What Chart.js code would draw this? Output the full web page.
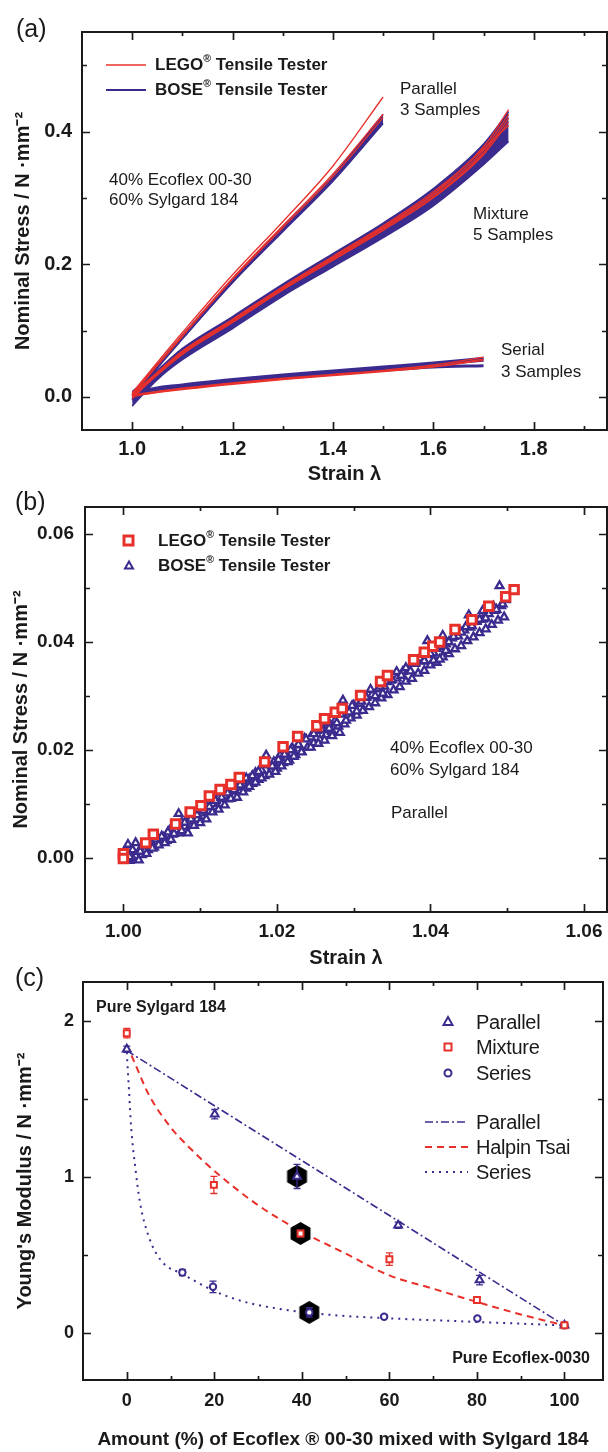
<!DOCTYPE html>
<html>
<head>
<meta charset="utf-8">
<script src="https://cdn.jsdelivr.net/npm/chart.js@4.4.1/dist/chart.umd.min.js"></script>
<style>
  body { margin: 0; background: #fff; }
  #page { position: relative; width: 608px; height: 1452px; overflow: hidden;
          font-family: "Liberation Sans", Arial, Helvetica, sans-serif; color: #1a1a1a; }
  #page canvas { position: absolute; left: 0; }
  .t { position: absolute; white-space: nowrap; }
  .b { font-weight: bold; }
  .t sup { font-size: 62%; line-height: 0; position: relative; top: -0.15em; }
  .leg { position: absolute; }
</style>
</head>
<body>
<div id="page">
  <canvas id="chartA" width="608" height="495" style="top:0px"></canvas>
  <canvas id="chartB" width="608" height="495" style="top:480px"></canvas>
  <canvas id="chartC" width="608" height="497" style="top:955px"></canvas>

  <!-- panel (a) -->
  <div class="t" style="left:16px; top:13px; font-size:25px; line-height:30px;">(a)</div>
  <svg class="leg" style="left:106px; top:62px" width="40" height="6"><line x1="0" y1="3" x2="40" y2="3" stroke="#e8302a" stroke-width="1.6"/></svg>
  <svg class="leg" style="left:106px; top:87px" width="40" height="6"><line x1="0" y1="3" x2="40" y2="3" stroke="#3b2b8e" stroke-width="2.2"/></svg>
  <div class="t b" style="left:155px; top:55px; font-size:17px; line-height:20px;">LEGO<sup>®</sup> Tensile Tester</div>
  <div class="t b" style="left:155px; top:80px; font-size:17px; line-height:20px;">BOSE<sup>®</sup> Tensile Tester</div>
  <div class="t" style="left:109px; top:170px; font-size:17px; line-height:20px;">40% Ecoflex 00-30<br>60% Sylgard 184</div>
  <div class="t" style="left:400px; top:78px; font-size:17px; line-height:21px;">Parallel<br>3 Samples</div>
  <div class="t" style="left:473px; top:203px; font-size:17px; line-height:21px;">Mixture<br>5 Samples</div>
  <div class="t" style="left:501px; top:339px; font-size:17px; line-height:22px;">Serial<br>3 Samples</div>

  <!-- panel (b) -->
  <div class="t" style="left:15px; top:486px; font-size:25px; line-height:30px;">(b)</div>
  <svg class="leg" style="left:121px; top:533px" width="16" height="16"><rect x="3" y="3" width="9" height="9" fill="#fff" stroke="#e8302a" stroke-width="3"/></svg>
  <svg class="leg" style="left:121px; top:558px" width="16" height="16"><polygon points="8,3.5 12,10.5 4,10.5" fill="#fff" stroke="#3b2b8e" stroke-width="2"/></svg>
  <div class="t b" style="left:158px; top:531px; font-size:17px; line-height:20px;">LEGO<sup>®</sup> Tensile Tester</div>
  <div class="t b" style="left:158px; top:556px; font-size:17px; line-height:20px;">BOSE<sup>®</sup> Tensile Tester</div>
  <div class="t" style="left:390px; top:737px; font-size:17px; line-height:22px;">40% Ecoflex 00-30<br>60% Sylgard 184</div>
  <div class="t" style="left:391px; top:802px; font-size:17px; line-height:22px;">Parallel</div>

  <!-- panel (c) -->
  <div class="t" style="left:15px; top:962px; font-size:25px; line-height:30px;">(c)</div>
  <div class="t b" style="left:96px; top:997px; font-size:16px; line-height:20px;">Pure Sylgard 184</div>
  <div class="t b" style="right:18px; top:1348px; font-size:16px; line-height:20px;">Pure Ecoflex-0030</div>
  <svg class="leg" style="left:440px; top:1014px" width="16" height="16"><polygon points="8,3 12.5,11 3.5,11" fill="#fff" stroke="#3b2b8e" stroke-width="2"/></svg>
  <svg class="leg" style="left:440px; top:1039px" width="16" height="16"><rect x="4.5" y="4.5" width="7" height="7" fill="#fff" stroke="#e8302a" stroke-width="2"/></svg>
  <svg class="leg" style="left:440px; top:1065px" width="16" height="16"><circle cx="8" cy="8" r="3.5" fill="#fff" stroke="#3b2b8e" stroke-width="2"/></svg>
  <svg class="leg" style="left:425px; top:1119px" width="43" height="6"><line x1="0" y1="3" x2="43" y2="3" stroke="#3b2b8e" stroke-width="1.6" stroke-dasharray="8 3 2 3"/></svg>
  <svg class="leg" style="left:425px; top:1144px" width="43" height="6"><line x1="0" y1="3" x2="43" y2="3" stroke="#e8302a" stroke-width="2" stroke-dasharray="7 5"/></svg>
  <svg class="leg" style="left:425px; top:1169px" width="43" height="6"><line x1="0" y1="3" x2="43" y2="3" stroke="#3b2b8e" stroke-width="2" stroke-dasharray="2 5"/></svg>
  <div class="t" style="left:476px; top:1011px; font-size:20px; line-height:22px; letter-spacing:-0.3px;">Parallel</div>
  <div class="t" style="left:476px; top:1036px; font-size:20px; line-height:22px; letter-spacing:-0.3px;">Mixture</div>
  <div class="t" style="left:476px; top:1062px; font-size:20px; line-height:22px; letter-spacing:-0.3px;">Series</div>
  <div class="t" style="left:476px; top:1111px; font-size:20px; line-height:22px; letter-spacing:-0.3px;">Parallel</div>
  <div class="t" style="left:476px; top:1136px; font-size:20px; line-height:22px; letter-spacing:-0.3px;">Halpin Tsai</div>
  <div class="t" style="left:476px; top:1161px; font-size:20px; line-height:22px; letter-spacing:-0.3px;">Series</div>
</div>

<script>
const FONT = '"Liberation Sans", Arial, Helvetica, sans-serif';
const INK = '#1a1a1a';
const RED = '#e8302a';
const PURPLE = '#3b2b8e';

// ---- panel (a): stress-strain curves ----
const strainPar = [1.0, 1.05, 1.1, 1.2, 1.3, 1.4, 1.5];
const legoPar1 = [0.006, 0.052, 0.097, 0.184, 0.264, 0.348, 0.452];
const legoPar2 = [0.004, 0.049, 0.093, 0.179, 0.258, 0.336, 0.426];
const legoPar3 = [0.002, 0.047, 0.091, 0.177, 0.255, 0.332, 0.421];
const boseParHi = [0.003, 0.049, 0.093, 0.178, 0.256, 0.333, 0.426];
const boseParLo = [-0.005, 0.043, 0.087, 0.172, 0.249, 0.325, 0.412];

const strainMix = [1.0, 1.05, 1.1, 1.2, 1.3, 1.4, 1.5, 1.6, 1.7, 1.75];
const boseMixHi = [0.008, 0.040, 0.073, 0.121, 0.170, 0.216, 0.262, 0.314, 0.381, 0.430];
const boseMixLo = [-0.014, 0.026, 0.056, 0.103, 0.152, 0.196, 0.240, 0.288, 0.350, 0.385];
const legoMix1 = [0.004, 0.037, 0.069, 0.117, 0.166, 0.212, 0.258, 0.309, 0.377, 0.433];
const legoMix2 = [0.002, 0.035, 0.067, 0.115, 0.164, 0.209, 0.255, 0.305, 0.372, 0.426];
const legoMix3 = [0.0, 0.033, 0.064, 0.112, 0.161, 0.206, 0.251, 0.300, 0.365, 0.414];
const legoMix4 = [-0.003, 0.034, 0.065, 0.113, 0.162, 0.207, 0.253, 0.302, 0.368, 0.420];
const legoMix5 = [0.001, 0.036, 0.068, 0.116, 0.165, 0.210, 0.256, 0.306, 0.374, 0.409];

const strainSer = [1.0, 1.02, 1.1, 1.2, 1.3, 1.4, 1.5, 1.6, 1.7];
const boseSer1 = [0.0, 0.008, 0.018, 0.026, 0.033, 0.039, 0.045, 0.051, 0.058];
const boseSer2 = [-0.004, 0.006, 0.016, 0.024, 0.031, 0.037, 0.043, 0.049, 0.055];
const boseSer3 = [0.002, 0.007, 0.015, 0.023, 0.030, 0.035, 0.040, 0.045, 0.047];
const legoSer1 = [0.003, 0.005, 0.013, 0.021, 0.028, 0.034, 0.040, 0.048, 0.060];
const legoSer2 = [0.002, 0.004, 0.012, 0.020, 0.027, 0.033, 0.039, 0.046, 0.057];
const legoSer3 = [0.0, 0.003, 0.011, 0.019, 0.026, 0.032, 0.038, 0.045, 0.055];

const ticksAx = [1.0, 1.1, 1.2, 1.3, 1.4, 1.5, 1.6, 1.7, 1.8, 1.9];
const labelsAx = [1.0, 1.2, 1.4, 1.6, 1.8];
const ticksAy = [0.0, 0.1, 0.2, 0.3, 0.4, 0.5];
const labelsAy = [0.0, 0.2, 0.4];

// ---- panel (b): parallel, small strain ----
const legoStrainB = [1.0, 1.0, 1.0029, 1.0039, 1.0068, 1.0087, 1.0101, 1.0112, 1.0126, 1.0140, 1.0151,
  1.0184, 1.0208, 1.0227, 1.0252, 1.0262, 1.0276, 1.0285, 1.0309, 1.0335, 1.0344, 1.0378, 1.0392,
  1.0403, 1.0412, 1.0432, 1.0454, 1.0476, 1.0498, 1.0509];
const legoStressB = [0.0008, -0.0001, 0.0028, 0.0044, 0.0063, 0.0085, 0.0097, 0.0115, 0.0127, 0.0136, 0.0149,
  0.0178, 0.0206, 0.0225, 0.0245, 0.0258, 0.0270, 0.0277, 0.0301, 0.0327, 0.0338, 0.0367, 0.0381,
  0.0392, 0.0400, 0.0423, 0.0441, 0.0466, 0.0484, 0.0497];

// BOSE sample 1
const boseStrainB1 = [1.0002, 1.0006, 1.0008, 1.0012, 1.0016, 1.0020, 1.0022, 1.0026, 1.0030, 1.0034,
  1.0038, 1.0042, 1.0046, 1.0050, 1.0054, 1.0058, 1.0062, 1.0066, 1.0070, 1.0072, 1.0076, 1.0080,
  1.0084, 1.0088, 1.0092, 1.0096, 1.0100, 1.0104, 1.0108, 1.0112, 1.0116, 1.0120, 1.0124, 1.0128,
  1.0132, 1.0136, 1.0140, 1.0144, 1.0148, 1.0152, 1.0156, 1.0160, 1.0164, 1.0168, 1.0172, 1.0176,
  1.0180, 1.0186, 1.0190, 1.0194, 1.0198, 1.0202, 1.0206, 1.0210, 1.0214, 1.0218, 1.0222, 1.0228,
  1.0232, 1.0238, 1.0244, 1.0248, 1.0254, 1.0258, 1.0262, 1.0268, 1.0272, 1.0278, 1.0282, 1.0286,
  1.0290, 1.0294, 1.0298, 1.0304, 1.0310, 1.0316, 1.0322, 1.0328, 1.0334, 1.0338, 1.0344, 1.0350,
  1.0356, 1.0362, 1.0368, 1.0374, 1.0380, 1.0386, 1.0392, 1.0396, 1.0400, 1.0404, 1.0408, 1.0412,
  1.0416, 1.0420, 1.0424, 1.0430, 1.0436, 1.0440, 1.0446, 1.0450, 1.0454, 1.0460, 1.0464, 1.0468,
  1.0472, 1.0478, 1.0482, 1.0486, 1.0490, 1.0494, 1.0498];
const boseStressB1 = [0.0010, 0.0025, 0.0002, 0.0015, 0.0028, -0.0004, 0.0012, 0.0022, 0.0008, 0.0030,
  0.0018, 0.0035, 0.0024, 0.0040, 0.0028, 0.0048, 0.0034, 0.0045, 0.0060, 0.0082, 0.0050, 0.0066,
  0.0046, 0.0072, 0.0060, 0.0080, 0.0065, 0.0088, 0.0072, 0.0095, 0.0085, 0.0106, 0.0090, 0.0112,
  0.0098, 0.0120, 0.0110, 0.0126, 0.0112, 0.0135, 0.0122, 0.0148, 0.0132, 0.0152, 0.0140, 0.0160,
  0.0148, 0.0190, 0.0155, 0.0170, 0.0160, 0.0182, 0.0170, 0.0192, 0.0178, 0.0200, 0.0188, 0.0210,
  0.0196, 0.0220, 0.0205, 0.0230, 0.0212, 0.0238, 0.0218, 0.0240, 0.0226, 0.0250, 0.0232, 0.0292,
  0.0255, 0.0270, 0.0282, 0.0272, 0.0290, 0.0298, 0.0312, 0.0300, 0.0318, 0.0305, 0.0326, 0.0330,
  0.0345, 0.0338, 0.0352, 0.0346, 0.0362, 0.0370, 0.0365, 0.0402, 0.0378, 0.0366, 0.0388, 0.0368,
  0.0412, 0.0384, 0.0400, 0.0410, 0.0420, 0.0418, 0.0428, 0.0450, 0.0430, 0.0440, 0.0442, 0.0458,
  0.0444, 0.0462, 0.0466, 0.0460, 0.0504, 0.0470, 0.0478];

// BOSE sample 2
const boseStrainB2 = [1.0004, 1.0012, 1.0020, 1.0028, 1.0036, 1.0044, 1.0052, 1.0060, 1.0068, 1.0076,
  1.0084, 1.0092, 1.0100, 1.0108, 1.0116, 1.0124, 1.0132, 1.0140, 1.0148, 1.0156, 1.0164, 1.0172,
  1.0180, 1.0188, 1.0196, 1.0204, 1.0212, 1.0220, 1.0228, 1.0236, 1.0244, 1.0252, 1.0260, 1.0268,
  1.0276, 1.0284, 1.0292, 1.0300, 1.0308, 1.0316, 1.0324, 1.0332, 1.0340, 1.0348, 1.0356, 1.0364,
  1.0372, 1.0380, 1.0388, 1.0396, 1.0404, 1.0412, 1.0420, 1.0428, 1.0436, 1.0444, 1.0452, 1.0460,
  1.0468, 1.0476, 1.0484, 1.0492];
const boseStressB2 = [-0.0002, 0.0000, 0.0012, 0.0014, 0.0020, 0.0035, 0.0038, 0.0051, 0.0052, 0.0066,
  0.0068, 0.0082, 0.0083, 0.0097, 0.0100, 0.0112, 0.0115, 0.0128, 0.0131, 0.0142, 0.0146, 0.0158,
  0.0162, 0.0172, 0.0178, 0.0190, 0.0193, 0.0204, 0.0209, 0.0221, 0.0224, 0.0236, 0.0240, 0.0250,
  0.0255, 0.0266, 0.0270, 0.0283, 0.0286, 0.0297, 0.0302, 0.0313, 0.0318, 0.0329, 0.0333, 0.0345,
  0.0349, 0.0360, 0.0364, 0.0376, 0.0380, 0.0391, 0.0396, 0.0407, 0.0411, 0.0422, 0.0427, 0.0438,
  0.0442, 0.0452, 0.0458, 0.0467];

// BOSE sample 3
const boseStrainB3 = [1.0008, 1.0016, 1.0024, 1.0032, 1.0040, 1.0048, 1.0056, 1.0064, 1.0072, 1.0080,
  1.0088, 1.0096, 1.0104, 1.0112, 1.0120, 1.0128, 1.0136, 1.0144, 1.0152, 1.0160, 1.0168, 1.0176,
  1.0184, 1.0192, 1.0200, 1.0208, 1.0216, 1.0224, 1.0232, 1.0240, 1.0248, 1.0256, 1.0264, 1.0272,
  1.0280, 1.0288, 1.0296, 1.0304, 1.0312, 1.0320, 1.0328, 1.0336, 1.0344, 1.0352, 1.0360, 1.0368,
  1.0376, 1.0384, 1.0392, 1.0400, 1.0408, 1.0416, 1.0424, 1.0432, 1.0440, 1.0448, 1.0456, 1.0464,
  1.0472, 1.0480, 1.0488, 1.0496];
const boseStressB3 = [-0.0005, 0.0004, 0.0006, 0.0015, 0.0020, 0.0030, 0.0032, 0.0044, 0.0046, 0.0058,
  0.0062, 0.0072, 0.0077, 0.0086, 0.0094, 0.0100, 0.0109, 0.0114, 0.0124, 0.0129, 0.0138, 0.0145,
  0.0152, 0.0161, 0.0166, 0.0176, 0.0181, 0.0191, 0.0197, 0.0205, 0.0213, 0.0219, 0.0228, 0.0234,
  0.0244, 0.0248, 0.0259, 0.0264, 0.0273, 0.0280, 0.0287, 0.0296, 0.0302, 0.0311, 0.0317, 0.0327,
  0.0332, 0.0342, 0.0347, 0.0357, 0.0362, 0.0372, 0.0378, 0.0387, 0.0393, 0.0402, 0.0409, 0.0417,
  0.0424, 0.0432, 0.0440, 0.0446];

const ticksBx = [1.00, 1.01, 1.02, 1.03, 1.04, 1.05, 1.06];
const labelsBx = [1.00, 1.02, 1.04, 1.06];
const ticksBy = [0.00, 0.01, 0.02, 0.03, 0.04, 0.05, 0.06];
const labelsBy = [0.00, 0.02, 0.04, 0.06];

// ---- panel (c): Young's modulus vs Ecoflex fraction ----
const fracPar = [0, 20.1, 38.9, 62.0, 80.6, 100];
const modPar = [1.819, 1.403, 1.004, 0.692, 0.340, 0.051];
const errPar = [0.02, 0.03, 0.077, 0.02, 0.03, 0.01];
const fracMix = [0, 19.9, 39.7, 60.0, 80.0, 100];
const modMix = [1.922, 0.950, 0.639, 0.474, 0.213, 0.051];
const errMix = [0.03, 0.055, 0.02, 0.04, 0.02, 0.01];
const fracSer = [12.7, 19.7, 41.7, 58.8, 80.1, 100];
const modSer = [0.389, 0.297, 0.133, 0.105, 0.094, 0.051];
const errSer = [0.02, 0.037, 0.03, 0.01, 0.01, 0.01];
const fracHex = [38.9, 39.7, 41.7];
const modHex = [1.004, 0.639, 0.133];

const fracParModel = [0, 100];
const modParModel = [1.81, 0.05];
const fracHalpin = [0, 2, 5, 10, 15, 20, 30, 40, 50, 60, 70, 80, 90, 100];
const modHalpin = [1.85, 1.72, 1.53, 1.32, 1.17, 1.04, 0.82, 0.65, 0.51, 0.37, 0.285, 0.20, 0.12, 0.05];
const fracSeries = [0, 0.5, 1, 2, 3, 5, 8, 12.7, 20, 27, 35, 42, 50, 60, 80, 100];
const modSeries = [1.80, 1.56, 1.32, 1.05, 0.84, 0.62, 0.46, 0.38, 0.27, 0.20, 0.155, 0.13, 0.11, 0.095, 0.072, 0.05];

const ticksCx = [0, 10, 20, 30, 40, 50, 60, 70, 80, 90, 100];
const labelsCx = [0, 20, 40, 60, 80, 100];
const ticksCy = [0, 0.5, 1, 1.5, 2];
const labelsCy = [0, 1, 2];

function pts(xs, ys) {
  return xs.map((x, i) => ({ x: x, y: ys[i] }));
}

function lineSet(xs, ys, color, width, order, dash) {
  return {
    data: pts(xs, ys), showLine: true, fill: false,
    borderColor: color, borderWidth: width, borderDash: dash || [],
    pointRadius: 0, cubicInterpolationMode: 'monotone', order: order
  };
}

// upper edge of a noisy band, filled down to the next dataset
function bandSet(xs, ys, color, order) {
  const d = lineSet(xs, ys, color, 1.5, order);
  d.fill = '+1';
  d.backgroundColor = color;
  return d;
}

function markerSet(xs, ys, style, radius, color, width, order, errors) {
  return {
    data: pts(xs, ys), showLine: false,
    pointStyle: style, pointRadius: radius, pointBorderWidth: width,
    pointBorderColor: color, pointBackgroundColor: '#fff',
    borderColor: color, order: order, errors: errors
  };
}

function hexagon(r) {
  const c = document.createElement('canvas');
  c.width = c.height = Math.ceil(r * 2 + 2);
  const g = c.getContext('2d');
  const m = c.width / 2;
  g.fillStyle = '#000';
  g.beginPath();
  for (let k = 0; k < 6; k++) {
    const a = -Math.PI / 2 + k * Math.PI / 3;
    g.lineTo(m + r * Math.cos(a), m + r * Math.sin(a));
  }
  g.closePath();
  g.fill();
  return c;
}

function axis(o, isX) {
  return {
    type: 'linear', min: o.min, max: o.max,
    grid: { display: false, drawTicks: false },
    border: { display: false },
    afterBuildTicks: s => { s.ticks = o.ticks.map(v => ({ value: v })); },
    afterFit: s => {
      if (isX) s.height = o.size; else s.width = o.size;
      s.paddingLeft = s.paddingRight = s.paddingTop = s.paddingBottom = 0;
    },
    ticks: {
      autoSkip: false, maxRotation: 0, padding: o.pad, color: INK,
      font: { family: FONT, size: o.font, weight: 'bold' },
      callback: v => o.labels.indexOf(v) >= 0 ? v.toFixed(o.dec) : ''
    },
    title: {
      display: true, text: o.title, color: INK,
      font: { family: FONT, size: o.titleSize, weight: 'bold' },
      padding: isX ? { top: 0, bottom: o.titlePad } : { top: o.titlePad, bottom: 0 }
    }
  };
}

// box with inward ticks on all four sides
const frameTicks = {
  id: 'frameTicks',
  afterDatasetsDraw(chart) {
    const { ctx, chartArea: a, scales: { x, y } } = chart;
    ctx.save();
    ctx.strokeStyle = INK;
    ctx.lineWidth = 2;
    ctx.strokeRect(a.left, a.top, a.right - a.left, a.bottom - a.top);
    ctx.lineWidth = 1.7;
    ctx.beginPath();
    x.ticks.forEach(t => {
      const p = Math.round(x.getPixelForValue(t.value)) + 0.5;
      const len = t.label ? 8 : 4;
      ctx.moveTo(p, a.bottom); ctx.lineTo(p, a.bottom - len);
      ctx.moveTo(p, a.top); ctx.lineTo(p, a.top + len);
    });
    y.ticks.forEach(t => {
      const p = Math.round(y.getPixelForValue(t.value)) + 0.5;
      const len = t.label ? 8 : 5;
      ctx.moveTo(a.left, p); ctx.lineTo(a.left + len, p);
      ctx.moveTo(a.right, p); ctx.lineTo(a.right - len, p);
    });
    ctx.stroke();
    ctx.restore();
  }
};

// vertical error bars taken from dataset.errors
const errorBars = {
  id: 'errorBars',
  beforeDatasetDraw(chart, args) {
    const ds = chart.data.datasets[args.index];
    if (!ds.errors) return;
    const { ctx, scales: { x, y } } = chart;
    ctx.save();
    ctx.strokeStyle = ds.borderColor;
    ctx.lineWidth = 1.3;
    ctx.beginPath();
    ds.data.forEach((p, i) => {
      const e = ds.errors[i];
      const px = x.getPixelForValue(p.x);
      const y1 = y.getPixelForValue(p.y + e);
      const y2 = y.getPixelForValue(p.y - e);
      ctx.moveTo(px, y1); ctx.lineTo(px, y2);
      ctx.moveTo(px - 3.5, y1); ctx.lineTo(px + 3.5, y1);
      ctx.moveTo(px - 3.5, y2); ctx.lineTo(px + 3.5, y2);
    });
    ctx.stroke();
    ctx.restore();
  }
};

function makeChart(id, datasets, xo, yo, pad) {
  return new Chart(document.getElementById(id), {
    type: 'scatter',
    data: { datasets: datasets },
    options: {
      responsive: false, animation: false, devicePixelRatio: 1,
      events: [],
      layout: { autoPadding: false, padding: pad },
      plugins: { legend: { display: false }, tooltip: { enabled: false } },
      scales: { x: axis(xo, true), y: axis(yo, false) }
    },
    plugins: [frameTicks, errorBars]
  });
}

const stressTitle = 'Nominal Stress / N \u00B7mm\u207B\u00B2';

makeChart('chartA', [
  lineSet(strainPar, legoPar1, RED, 1.3, 1),
  lineSet(strainPar, legoPar2, RED, 1.3, 1),
  lineSet(strainPar, legoPar3, RED, 1.3, 1),
  lineSet(strainMix, legoMix1, RED, 1.3, 1),
  lineSet(strainMix, legoMix2, RED, 1.3, 1),
  lineSet(strainMix, legoMix3, RED, 1.3, 1),
  lineSet(strainMix, legoMix4, RED, 1.3, 1),
  lineSet(strainMix, legoMix5, RED, 1.3, 1),
  lineSet(strainSer, legoSer1, RED, 1.3, 1),
  lineSet(strainSer, legoSer2, RED, 1.3, 1),
  lineSet(strainSer, legoSer3, RED, 1.3, 1),
  bandSet(strainPar, boseParHi, PURPLE, 2),
  lineSet(strainPar, boseParLo, PURPLE, 1.5, 2),
  bandSet(strainMix, boseMixHi, PURPLE, 2),
  lineSet(strainMix, boseMixLo, PURPLE, 1.5, 2),
  lineSet(strainSer, boseSer1, PURPLE, 3, 2),
  lineSet(strainSer, boseSer2, PURPLE, 3, 2),
  lineSet(strainSer, boseSer3, PURPLE, 3, 2)
], {
  min: 0.9, max: 1.946, ticks: ticksAx, labels: labelsAx, dec: 1, font: 20, pad: 7,
  size: 65, title: 'Strain \u03BB', titleSize: 20, titlePad: 9
}, {
  min: -0.05, max: 0.55, ticks: ticksAy, labels: labelsAy, dec: 1, font: 20, pad: 10,
  size: 82, title: stressTitle, titleSize: 20, titlePad: 11
}, { left: 0, top: 32, right: 1, bottom: 0 });

makeChart('chartB', [
  markerSet(legoStrainB, legoStressB, 'rect', 6, RED, 3, 1),
  markerSet(boseStrainB1, boseStressB1, 'triangle', 4.5, PURPLE, 2.3, 2),
  markerSet(boseStrainB2, boseStressB2, 'triangle', 4.5, PURPLE, 2.3, 3),
  markerSet(boseStrainB3, boseStressB3, 'triangle', 4.5, PURPLE, 2.3, 4)
], {
  min: 0.995, max: 1.063, ticks: ticksBx, labels: labelsBx, dec: 2, font: 19, pad: 8,
  size: 63, title: 'Strain \u03BB', titleSize: 20, titlePad: 5
}, {
  min: -0.01, max: 0.065, ticks: ticksBy, labels: labelsBy, dec: 2, font: 19, pad: 11,
  size: 85, title: stressTitle, titleSize: 20, titlePad: 9
}, { left: 0, top: 27, right: 1, bottom: 0 });

const hexStyle = hexagon(11.5);

makeChart('chartC', [
  markerSet(fracMix, modMix, 'rect', 4.2, RED, 2, 1, errMix),
  markerSet(fracPar, modPar, 'triangle', 4.5, PURPLE, 2, 2, errPar),
  markerSet(fracSer, modSer, 'circle', 3.2, PURPLE, 2, 3, errSer),
  { data: pts(fracHex, modHex), showLine: false, pointStyle: hexStyle, pointRadius: 11, order: 4 },
  lineSet(fracParModel, modParModel, PURPLE, 1.6, 5, [8, 3, 2, 3]),
  lineSet(fracHalpin, modHalpin, RED, 2, 5, [7, 5]),
  lineSet(fracSeries, modSeries, PURPLE, 2, 5, [2, 5])
], {
  min: -10, max: 108.8, ticks: ticksCx, labels: labelsCx, dec: 0, font: 18, pad: 10,
  size: 72, title: 'Amount (%) of Ecoflex \u00AE 00-30 mixed with Sylgard 184', titleSize: 19, titlePad: 1
}, {
  min: -0.3, max: 2.25, ticks: ticksCy, labels: labelsCy, dec: 0, font: 18, pad: 9,
  size: 83, title: 'Young\'s Modulus / N \u00B7mm\u207B\u00B2', titleSize: 20, titlePad: 13
}, { left: 0, top: 27, right: 5, bottom: 0 });
</script>
</body>
</html>
